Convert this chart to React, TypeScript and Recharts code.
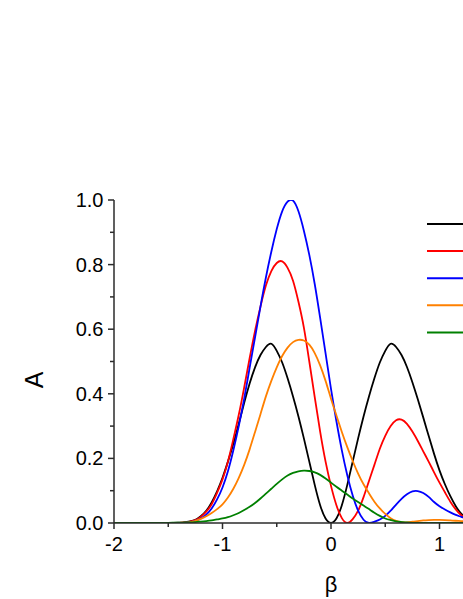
import React from 'react';
import { LineChart, Line, XAxis, YAxis, Legend } from 'recharts';

const beta = [
  -2.0, -1.9, -1.8, -1.7, -1.6, -1.5,
  -1.45, -1.4, -1.35, -1.3, -1.25, -1.2, -1.15, -1.1, -1.05, -1.0,
  -0.95, -0.9, -0.85, -0.8, -0.75, -0.7, -0.65, -0.6, -0.55, -0.5,
  -0.45, -0.4, -0.35, -0.3, -0.25, -0.2, -0.15, -0.1, -0.05, 0,
  0.05, 0.1, 0.15, 0.2, 0.25, 0.3, 0.35, 0.4, 0.45, 0.5,
  0.55, 0.6, 0.65, 0.7, 0.75, 0.8, 0.85, 0.9, 0.95, 1.0,
  1.05, 1.1, 1.15, 1.2, 1.25, 1.3,
];

const blackA = [
  0, 0, 0, 0, 0, 0,
  0.0005, 0.001, 0.002, 0.005, 0.01, 0.021, 0.038, 0.064, 0.098, 0.14,
  0.19, 0.245, 0.307, 0.372, 0.432, 0.482, 0.52, 0.545, 0.555, 0.533,
  0.497, 0.448, 0.392, 0.33, 0.262, 0.19, 0.118, 0.055, 0.014, 0,
  0.014, 0.055, 0.118, 0.19, 0.262, 0.33, 0.392, 0.448, 0.497, 0.533,
  0.555, 0.545, 0.52, 0.483, 0.436, 0.383, 0.327, 0.27, 0.214, 0.163,
  0.12, 0.083, 0.052, 0.029, 0.015, 0.007,
];

const redA = [
  0, 0, 0, 0, 0, 0,
  0.0002, 0.0005, 0.0015, 0.004, 0.009, 0.019, 0.035, 0.058, 0.093, 0.135,
  0.19, 0.26, 0.335, 0.42, 0.51, 0.595, 0.67, 0.735, 0.78, 0.805,
  0.81, 0.79, 0.75, 0.685, 0.605, 0.5, 0.39, 0.283, 0.19, 0.115,
  0.055, 0.015, 0.0, 0.012, 0.038, 0.08, 0.13, 0.18, 0.23, 0.27,
  0.3, 0.318, 0.32, 0.307, 0.283, 0.254, 0.222, 0.19, 0.157, 0.125,
  0.095, 0.066, 0.042, 0.024, 0.013, 0.006,
];

const blueA = [
  0, 0, 0, 0, 0, 0,
  0.0001, 0.0003, 0.001, 0.003, 0.007, 0.014, 0.026, 0.045, 0.073, 0.11,
  0.16, 0.225, 0.3, 0.385, 0.48, 0.575, 0.67, 0.76, 0.84, 0.91,
  0.965, 0.995, 0.998, 0.965, 0.905, 0.83, 0.74, 0.635, 0.525, 0.415,
  0.315, 0.225, 0.148, 0.085, 0.038, 0.01, 0.0, 0.004, 0.011, 0.022,
  0.038, 0.057, 0.075, 0.089, 0.098, 0.099, 0.093, 0.081, 0.065, 0.052,
  0.042, 0.033, 0.025, 0.019, 0.013, 0.009,
];

const orangeA = [
  0, 0, 0, 0, 0, 0,
  0.0002, 0.0005, 0.001, 0.003, 0.007, 0.013, 0.021, 0.031, 0.043, 0.058,
  0.079, 0.106, 0.14, 0.18, 0.228, 0.282, 0.337, 0.392, 0.44, 0.482,
  0.517, 0.543, 0.56, 0.567, 0.565, 0.552, 0.526, 0.488, 0.44, 0.385,
  0.333, 0.282, 0.235, 0.192, 0.153, 0.12, 0.092, 0.066, 0.045, 0.028,
  0.015, 0.007, 0.003, 0.002, 0.004, 0.006, 0.008, 0.009, 0.0095, 0.0095,
  0.009, 0.008, 0.007, 0.006, 0.005, 0.004,
];

const greenA = [
  0, 0, 0, 0, 0.0002, 0.0005,
  0.0008, 0.001, 0.0015, 0.002, 0.003, 0.0045, 0.006, 0.008, 0.011, 0.014,
  0.018, 0.024, 0.031, 0.04, 0.05, 0.062, 0.076, 0.091, 0.106, 0.121,
  0.135, 0.147, 0.155, 0.16, 0.162, 0.161, 0.157, 0.149, 0.138, 0.125,
  0.112, 0.1, 0.088, 0.076, 0.065, 0.054, 0.043, 0.032, 0.022, 0.014,
  0.009, 0.005, 0.003, 0.0015, 0.0005, 0, 0, 0, 0, 0,
  0, 0, 0, 0, 0, 0,
];

const xTicks = [-2, -1.5, -1, -0.5, 0, 0.5, 1, 1.5, 2];
const xTickLabels = ['-2', '', '-1', '', '0', '', '1', '', ''];
const yTicks = [0, 0.1, 0.2, 0.3, 0.4, 0.5, 0.6, 0.7, 0.8, 0.9, 1.0];
const yTickLabels = ['0.0', '', '0.2', '', '0.4', '', '0.6', '', '0.8', '', '1.0'];

const series = [
  { key: 'black', name: 'black', color: '#000000' },
  { key: 'red', name: 'red', color: '#ff0000' },
  { key: 'blue', name: 'blue', color: '#0000ff' },
  { key: 'orange', name: 'orange', color: '#ff8000' },
  { key: 'green', name: 'green', color: '#008000' },
];

const data = beta.map((b, i) => ({
  beta: b,
  black: blackA[i],
  red: redA[i],
  blue: blueA[i],
  orange: orangeA[i],
  green: greenA[i],
}));

const AXIS = '#2b2b2b';
const FONT = '"Liberation Sans", Arial, sans-serif';

const isInt = (v: number) => Math.abs(v - Math.round(v)) < 1e-6;
const isMajorY = (v: number) => Math.round(v * 10) % 2 === 0;

const BottomTick = (props: any) => {
  const { x, y, payload, index } = props;
  const v = payload.value as number;
  const major = isInt(v);
  const label = xTickLabels[index] ?? '';
  return (
    <g>
      <line x1={x} y1={y} x2={x} y2={y + (major ? 6 : 4)} stroke={AXIS} strokeWidth={1.5} />
      {label !== '' && (
        <text x={x} y={y + 28} textAnchor="middle" fontSize={20} fontFamily={FONT} fill="#000">
          {label}
        </text>
      )}
    </g>
  );
};

const TopTick = (props: any) => {
  const { x, y, payload } = props;
  const major = isInt(payload.value);
  return <line x1={x} y1={y} x2={x} y2={y + (major ? 5 : 3)} stroke={AXIS} strokeWidth={1.5} />;
};

const LeftTick = (props: any) => {
  const { x, y, payload, index } = props;
  const v = payload.value as number;
  const major = isMajorY(v);
  const label = yTickLabels[index] ?? '';
  return (
    <g>
      <line x1={x} y1={y} x2={x - (major ? 6 : 4)} y2={y} stroke={AXIS} strokeWidth={1.5} />
      {label !== '' && (
        <text x={x - 10.5} y={y + 7} textAnchor="end" fontSize={20} fontFamily={FONT} fill="#000">
          {label}
        </text>
      )}
    </g>
  );
};

const RightTick = (props: any) => {
  const { x, y, payload } = props;
  const major = isMajorY(payload.value);
  return <line x1={x} y1={y} x2={x - (major ? 5 : 3)} y2={y} stroke={AXIS} strokeWidth={1.5} />;
};

const YTitle = (props: any) => {
  const vb = props.viewBox || {};
  const cx = vb.x + 34;
  const cy = vb.y + vb.height / 2 + 18.5;
  return (
    <text
      x={cx}
      y={cy}
      transform={`rotate(-90, ${cx}, ${cy})`}
      textAnchor="middle"
      dominantBaseline="central"
      fontSize={25}
      fontFamily={FONT}
      fill="#000"
    >
      A
    </text>
  );
};

const XTitle = (props: any) => {
  const vb = props.viewBox || {};
  return (
    <text x={vb.x + vb.width / 2} y={vb.y + 69} textAnchor="middle" fontSize={22} fontFamily={FONT} fill="#000">
      β
    </text>
  );
};

const LegendLines = (props: any) => {
  const payload = (props.payload || []).slice();
  const order = series.map((s) => s.key);
  payload.sort((a: any, b: any) => order.indexOf(a.dataKey) - order.indexOf(b.dataKey));
  return (
    <svg width={80} height={130} style={{ display: 'block' }}>
      {payload.map((e: any, i: number) => (
        <line key={e.dataKey} x1={0} x2={46} y1={6 + i * 27.1} y2={6 + i * 27.1} stroke={e.color} strokeWidth={2} />
      ))}
    </svg>
  );
};

export default function App() {
  return (
    <div style={{ position: 'absolute', left: 0, top: 0, width: 463, height: 599, overflow: 'hidden', background: '#fff' }}>
      <LineChart width={600} height={599} data={data} margin={{ top: 200, right: 52, bottom: 0, left: 0 }}>
        <XAxis
          xAxisId="bottom"
          dataKey="beta"
          type="number"
          domain={[-2, 2]}
          ticks={xTicks}
          interval={0}
          orientation="bottom"
          height={76}
          tickSize={0}
          tickMargin={0}
          tickLine={false}
          axisLine={{ stroke: AXIS, strokeWidth: 1.5 }}
          tick={<BottomTick />}
          label={{ content: <XTitle /> }}
          allowDataOverflow
        />
        <XAxis
          xAxisId="top"
          dataKey="beta"
          type="number"
          domain={[-2, 2]}
          ticks={xTicks}
          interval={0}
          orientation="top"
          height={0}
          tickSize={0}
          tickMargin={0}
          tickLine={false}
          axisLine={{ stroke: AXIS, strokeWidth: 1.5 }}
          tick={<TopTick />}
          allowDataOverflow
        />
        <YAxis
          yAxisId="left"
          type="number"
          domain={[0, 1]}
          ticks={yTicks}
          interval={0}
          orientation="left"
          width={114}
          tickSize={0}
          tickMargin={0}
          tickLine={false}
          axisLine={{ stroke: AXIS, strokeWidth: 1.5 }}
          tick={<LeftTick />}
          label={{ content: <YTitle /> }}
          allowDataOverflow
        />
        <YAxis
          yAxisId="right"
          type="number"
          domain={[0, 1]}
          ticks={yTicks}
          interval={0}
          orientation="right"
          width={0}
          tickSize={0}
          tickMargin={0}
          tickLine={false}
          axisLine={{ stroke: AXIS, strokeWidth: 1.5 }}
          tick={<RightTick />}
          allowDataOverflow
        />
        {series.map((s) => (
          <Line
            key={s.key}
            xAxisId="bottom"
            yAxisId="left"
            type="natural"
            dataKey={s.key}
            name={s.name}
            stroke={s.color}
            strokeWidth={1.8}
            dot={false}
            activeDot={false}
            isAnimationActive={false}
          />
        ))}
        <Legend
          layout="vertical"
          align="center"
          verticalAlign="middle"
          content={<LegendLines />}
          wrapperStyle={{ position: 'absolute', left: 427, top: 218, width: 80, height: 130 }}
        />
      </LineChart>
    </div>
  );
}
